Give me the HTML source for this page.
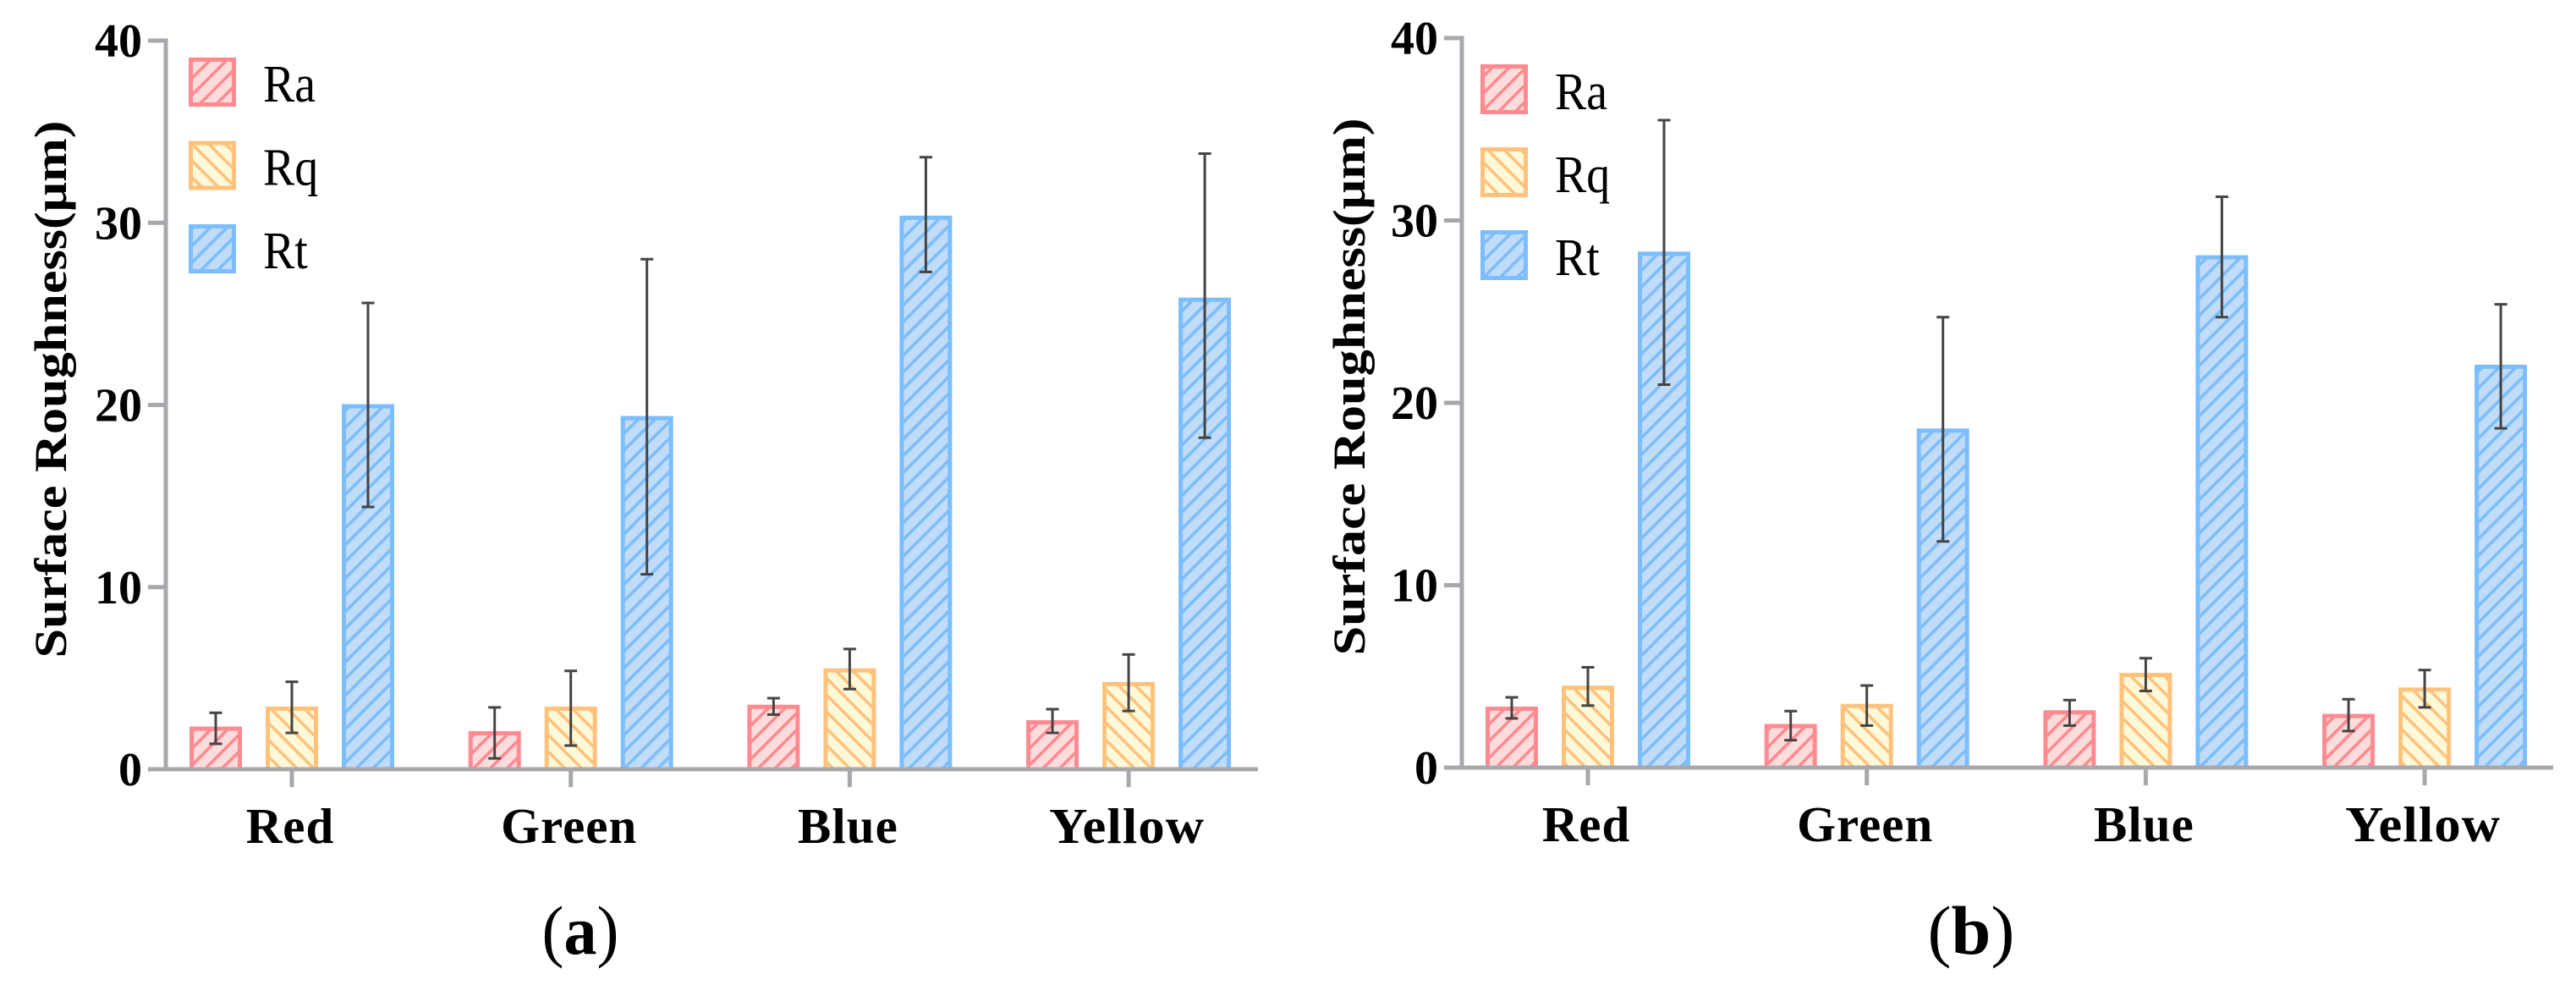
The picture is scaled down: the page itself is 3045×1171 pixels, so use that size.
<!DOCTYPE html>
<html lang="en">
<head>
<meta charset="utf-8">
<title>Surface Roughness Charts</title>
<style>
html,body{margin:0;padding:0;background:#fff;width:3045px;height:1171px;overflow:hidden}
svg{display:block;font-family:"Liberation Serif",serif}
</style>
</head>
<body>
<svg id="figure" xmlns="http://www.w3.org/2000/svg" width="3045" height="1171" viewBox="0 0 3045 1171">
  <defs>
    <pattern id="hatch-ra" width="14" height="14" patternUnits="userSpaceOnUse" patternTransform="rotate(-45)">
      <rect width="14" height="14" fill="#ffdcdc"/><rect width="14" height="3.6" fill="#ff8a90"/>
    </pattern>
    <pattern id="hatch-rq" width="14" height="14" patternUnits="userSpaceOnUse" patternTransform="rotate(45)">
      <rect width="14" height="14" fill="#fff9da"/><rect width="14" height="3.6" fill="#ffc27c"/>
    </pattern>
    <pattern id="hatch-rt" width="14" height="14" patternUnits="userSpaceOnUse" patternTransform="rotate(-45)">
      <rect width="14" height="14" fill="#c0dcf8"/><rect width="14" height="3.6" fill="#7cbdfc"/>
    </pattern>
  </defs>
  <text x="686" y="1127" font-size="82" text-anchor="middle" textLength="91" lengthAdjust="spacingAndGlyphs">(<tspan font-weight="bold">a</tspan>)</text>
  <text x="2330" y="1127" font-size="82" text-anchor="middle" textLength="103" lengthAdjust="spacingAndGlyphs">(<tspan font-weight="bold">b</tspan>)</text>
</svg>
<script>
var categories = ["Red", "Green", "Blue", "Yellow"];
var seriesNames = ["Ra", "Rq", "Rt"];
var yTickLabels = [0, 10, 20, 30, 40];
var yAxisTitle = "Surface Roughness(\u03bcm)";

var panelARa = [2.25, 2.0, 3.45, 2.6];
var panelARq = [3.35, 3.35, 5.45, 4.7];
var panelARt = [19.95, 19.3, 30.3, 25.8];
var panelARaHigh = [3.1, 3.4, 3.9, 3.3];
var panelARaLow = [1.4, 0.6, 3.0, 2.0];
var panelARqHigh = [4.8, 5.4, 6.6, 6.3];
var panelARqLow = [2.0, 1.3, 4.4, 3.2];
var panelARtHigh = [25.6, 28.0, 33.6, 33.8];
var panelARtLow = [14.4, 10.7, 27.3, 18.2];

var panelBRa = [3.25, 2.3, 3.05, 2.85];
var panelBRq = [4.4, 3.4, 5.1, 4.3];
var panelBRt = [28.2, 18.5, 28.0, 22.0];
var panelBRaHigh = [3.85, 3.1, 3.7, 3.75];
var panelBRaLow = [2.7, 1.5, 2.3, 2.0];
var panelBRqHigh = [5.5, 4.5, 6.0, 5.35];
var panelBRqLow = [3.4, 2.3, 4.2, 3.3];
var panelBRtHigh = [35.5, 24.7, 31.3, 25.4];
var panelBRtLow = [21.0, 12.4, 24.7, 18.6];

var svgNS = "http://www.w3.org/2000/svg";
var figure = document.getElementById("figure");
var strokes = ["#ff8a90", "#ffc27c", "#7cbdfc"];
var fills = ["url(#hatch-ra)", "url(#hatch-rq)", "url(#hatch-rt)"];

function make(tag, attrs, parent) {
  var el = document.createElementNS(svgNS, tag);
  for (var k in attrs) { el.setAttribute(k, attrs[k]); }
  parent.appendChild(el);
  return el;
}

function drawPanel(id, layout, values, highs, lows) {
  var group = make("g", {}, figure);
  
  

  var yMax = 40;
  function yScale(v) { return layout.y0 + (layout.yTop - layout.y0) * v / yMax; }
  function xScale(c, s) { return layout.xFirst + c * layout.groupStep + (s - 1) * layout.barStep; }

  // bars
  values.forEach(function (series, s) {
    series.forEach(function (v, c) {
      var cx = xScale(c, s);
      var bar = make("rect", {
        x: cx - layout.barWidth / 2 + 2.5,
        y: yScale(v) + 0.5,
        width: layout.barWidth - 5,
        height: layout.y0 - yScale(v) - 0.5,
        fill: fills[s], stroke: strokes[s], "stroke-width": 5
      }, group);
      
      
    });
  });

  // axes
  var axisColor = "#a8a8ac";
  var yAxis = make("line", { x1: layout.yAxisX, x2: layout.yAxisX, y1: yScale(yMax) - 2.5, y2: layout.y0, stroke: axisColor, "stroke-width": 5 }, group);
  
  
  var xAxis = make("line", { x1: layout.yAxisX - 21, x2: layout.xEnd, y1: layout.y0, y2: layout.y0, stroke: axisColor, "stroke-width": 5 }, group);
  
  

  // y ticks
  yTickLabels.forEach(function (t) {
    var yy = yScale(t);
    if (t !== 0) {
      var tick = make("line", { x1: layout.yAxisX - 21, x2: layout.yAxisX, y1: yy, y2: yy, stroke: axisColor, "stroke-width": 5 }, group);
      
      
    }
    var label = make("text", { x: layout.yAxisX - 28, y: yy + 19, "font-size": 56, "font-weight": "bold", "text-anchor": "end", fill: "#000" }, group);
    label.textContent = String(t);
    
    
  });

  // x ticks and labels
  categories.forEach(function (name, c) {
    var cx = xScale(c, 1);
    var tick = make("line", { x1: cx, x2: cx, y1: layout.y0, y2: layout.y0 + 21, stroke: axisColor, "stroke-width": 5 }, group);
    
    
    var label = make("text", { x: cx - 2, y: layout.y0 + 87, "font-size": 59, "font-weight": "bold", "text-anchor": "middle", fill: "#000", "letter-spacing": 1 }, group);
    if (name === "Yellow") {
      label.setAttribute("textLength", 184);
      label.setAttribute("lengthAdjust", "spacingAndGlyphs");
    }
    label.textContent = name;
    
    
  });

  // error bars
  values.forEach(function (series, s) {
    series.forEach(function (v, c) {
      var cx = xScale(c, s);
      var yHigh = yScale(highs[s][c]);
      var yLow = yScale(lows[s][c]);
      var err = make("path", {
        d: "M" + (cx - 7.5) + " " + yHigh + "H" + (cx + 7.5) + "M" + cx + " " + yHigh + "V" + yLow + "M" + (cx - 7.5) + " " + yLow + "H" + (cx + 7.5),
        fill: "none", stroke: "#444", "stroke-width": 3
      }, group);
      
      
    });
  });

  // y axis title
  var title = make("text", {
    transform: "translate(" + layout.titleX + " " + layout.titleMid + ") rotate(-90)",
    "font-size": 54, "font-weight": "bold", "text-anchor": "middle", fill: "#000",
    textLength: 635, lengthAdjust: "spacingAndGlyphs"
  }, group);
  title.textContent = yAxisTitle;
  
  

  // legend
  seriesNames.forEach(function (name, s) {
    var ly = layout.legendTop + s * layout.legendStep;
    var swatch = make("rect", {
      x: layout.legendX + 2.5, y: ly + 2.5,
      width: layout.legendW - 5, height: layout.legendH - 5,
      fill: fills[s], stroke: strokes[s], "stroke-width": 5
    }, group);
    
    
    var text = make("text", {
      transform: "translate(" + (layout.legendX + layout.legendW + 32) + " " + (ly + layout.legendH - 6) + ") scale(0.9 1)",
      "font-size": layout.legendFont, fill: "#000"
    }, group);
    text.textContent = name;
    
    
  });
}

drawPanel("chart-panel-a",
  { y0: 909, yTop: 48, yAxisX: 196, xEnd: 1487, xFirst: 345, groupStep: 329.7, barStep: 90, barWidth: 62,
    titleX: 78, titleMid: 460, legendX: 223, legendTop: 68, legendStep: 98.5, legendW: 56, legendH: 58, legendFont: 62 },
  [panelARa, panelARq, panelARt],
  [panelARaHigh, panelARqHigh, panelARtHigh],
  [panelARaLow, panelARqLow, panelARtLow]);

drawPanel("chart-panel-b",
  { y0: 907, yTop: 45, yAxisX: 1728, xEnd: 3018, xFirst: 1877, groupStep: 329.7, barStep: 90, barWidth: 62,
    titleX: 1613, titleMid: 457, legendX: 1750, legendTop: 76, legendStep: 98, legendW: 56, legendH: 59, legendFont: 62 },
  [panelBRa, panelBRq, panelBRt],
  [panelBRaHigh, panelBRqHigh, panelBRtHigh],
  [panelBRaLow, panelBRqLow, panelBRtLow]);
</script>
</body>
</html>
